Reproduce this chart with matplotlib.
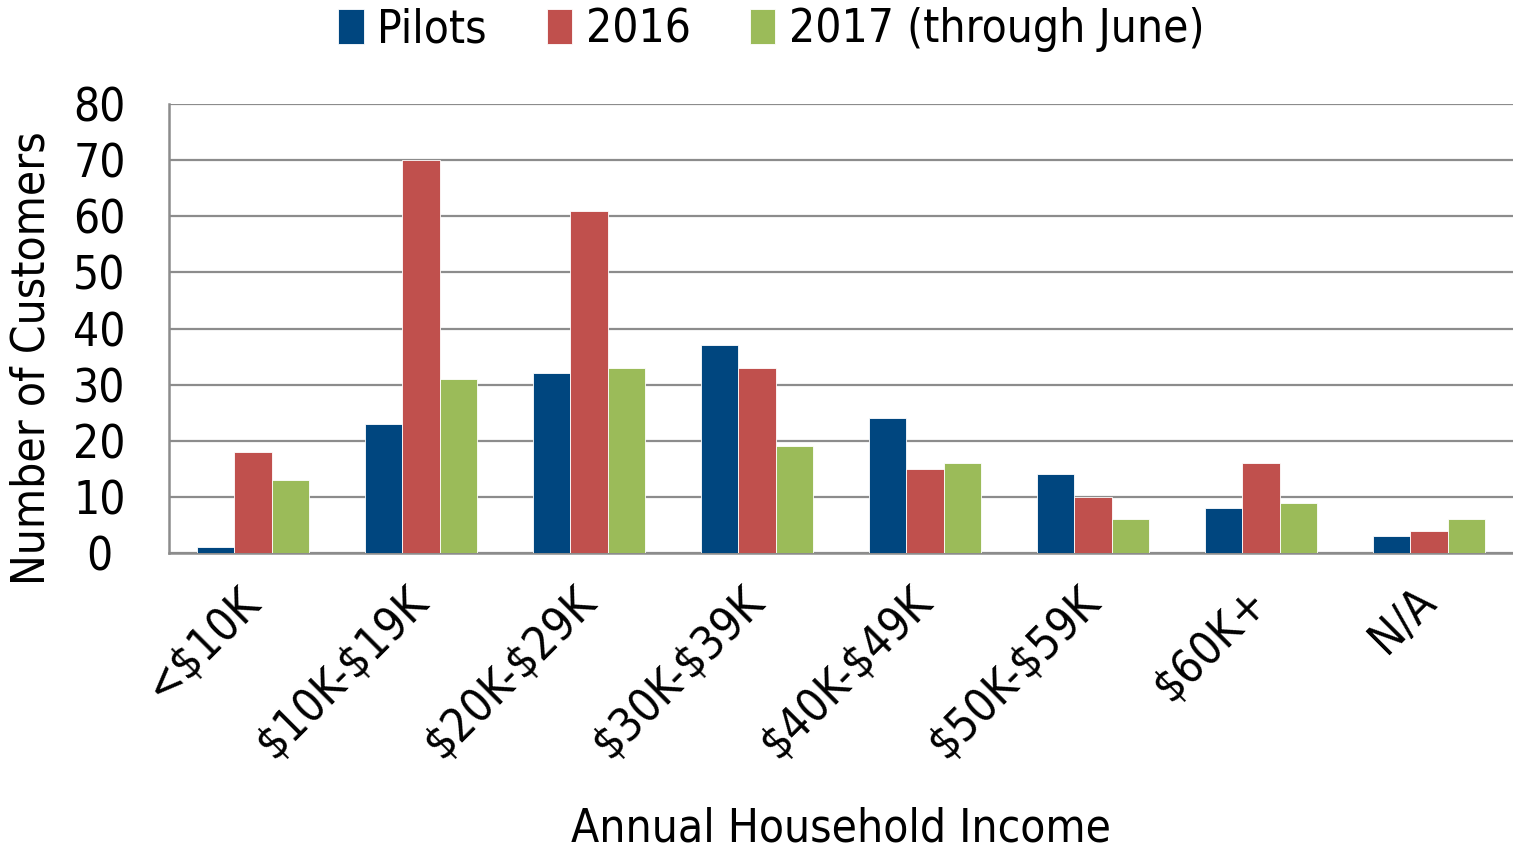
import numpy as np
import matplotlib.pyplot as plt
from matplotlib import font_manager

categories = ["<$10K", "$10K-$19K", "$20K-$29K", "$30K-$39K",
              "$40K-$49K", "$50K-$59K", "$60K+", "N/A"]
pilots = [1, 23, 32, 37, 24, 14, 8, 3]
y2016 = [18, 70, 61, 33, 15, 10, 16, 4]
y2017 = [13, 31, 33, 19, 16, 6, 9, 6]
series_names = ["Pilots", "2016", "2017 (through June)"]
colors = ["#00467F", "#C0504D", "#9BBB59"]

plt.rcParams["text.parse_math"] = False
names = {f.name for f in font_manager.fontManager.ttflist}
if "Liberation Sans Narrow" in names:
    plt.rcParams["font.family"] = ["Liberation Sans Narrow", "DejaVu Sans"]
else:
    plt.rcParams["font.family"] = ["DejaVu Sans"]
    plt.rcParams["font.stretch"] = "condensed"


def make_viz():
    fig = plt.figure(figsize=(15.13, 8.5), dpi=100)
    ax = fig.add_axes([0.1117, 0.3494, 0.8883, 0.5282])

    x = np.arange(len(categories))
    w = 0.222
    for i, (vals, name, c) in enumerate(zip([pilots, y2016, y2017], series_names, colors)):
        ax.bar(x + (i - 1) * w, vals, w, color=c, label=name,
               edgecolor="white", linewidth=0.6, zorder=3)

    ax.set_xlim(-0.5, len(categories) - 0.5)
    ax.set_ylim(0, 80)
    ax.set_yticks(range(0, 81, 10))
    ax.yaxis.grid(True, color="#8c8c8c", linewidth=1.6, zorder=0)
    for s in ["top", "right"]:
        ax.spines[s].set_visible(False)
    for s in ["left", "bottom"]:
        ax.spines[s].set_color("#8c8c8c")
        ax.spines[s].set_linewidth(1.8)

    ax.tick_params(axis="both", length=0, labelsize=33)
    ax.tick_params(axis="y", pad=50)
    ax.set_xticks(x)
    ax.set_xticklabels(categories, rotation=45, ha="right", va="center",
                       rotation_mode="anchor")
    ax.tick_params(axis="x", pad=30)
    for lbl in ax.get_yticklabels():
        lbl.set_ha("center")

    ax.set_ylabel("Number of Customers", fontsize=33)
    ax.yaxis.set_label_coords(-0.085, 0.434)
    ax.set_xlabel("Annual Household Income", fontsize=33)
    ax.xaxis.set_label_coords(0.5, -0.565)

    fig.legend(loc="upper center", bbox_to_anchor=(0.51, 1.04), ncol=3,
               fontsize=33, frameon=False, handlelength=0.55, handleheight=0.8,
               handletextpad=0.3, columnspacing=1.3)

    plt.savefig("out.png", dpi=100)


make_viz()
